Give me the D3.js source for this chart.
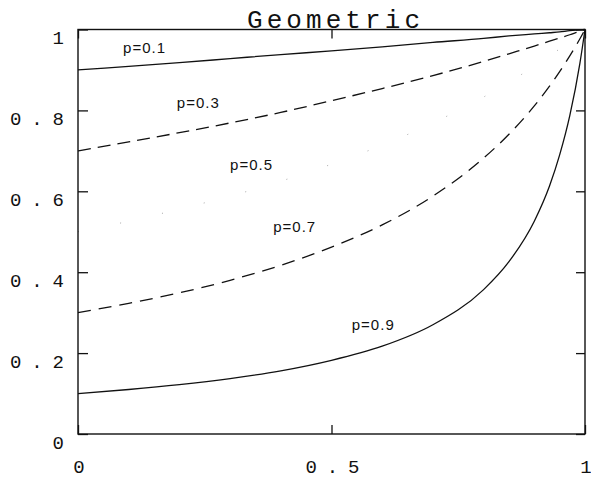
<!DOCTYPE html>
<html>
<head>
<meta charset="utf-8">
<script src="https://cdn.jsdelivr.net/npm/d3@7/dist/d3.min.js"></script>
<style>
  html, body { margin: 0; padding: 0; background: #fff; }
  svg { display: block; }
</style>
</head>
<body>
<svg id="chart" width="591" height="481"></svg>
<script>
// Generating functions of the geometric distribution, one curve per p.
const sValues = [0, 0.1, 0.2, 0.3, 0.4, 0.5, 0.6, 0.7, 0.8, 0.85, 0.9, 0.93, 0.95, 0.97, 0.99, 1];
const seriesP01 = [0.900, 0.909, 0.918, 0.928, 0.938, 0.947, 0.957, 0.968, 0.978, 0.984, 0.989, 0.992, 0.994, 0.997, 0.999, 1];
const seriesP03 = [0.700, 0.722, 0.745, 0.769, 0.795, 0.824, 0.854, 0.886, 0.921, 0.940, 0.959, 0.971, 0.979, 0.987, 0.996, 1];
const seriesP05 = [0.500, 0.526, 0.556, 0.588, 0.625, 0.667, 0.714, 0.769, 0.833, 0.870, 0.909, 0.935, 0.952, 0.971, 0.990, 1];
const seriesP07 = [0.300, 0.323, 0.349, 0.380, 0.417, 0.462, 0.517, 0.588, 0.682, 0.741, 0.811, 0.860, 0.896, 0.935, 0.977, 1];
const seriesP09 = [0.100, 0.110, 0.122, 0.137, 0.156, 0.182, 0.217, 0.270, 0.357, 0.426, 0.526, 0.613, 0.690, 0.787, 0.917, 1];

const seriesNames = ["p=0.1", "p=0.3", "p=0.5", "p=0.7", "p=0.9"];
// label anchors in data units (s, value)
const labelS = [0.089, 0.195, 0.300, 0.385, 0.540];
const labelV = [0.943, 0.807, 0.653, 0.500, 0.257];

const xTicks = [0, 0.5, 1];
const xTickLabels = ["0", "0 . 5", "1"];
const yTicks = [0, 0.2, 0.4, 0.6, 0.8, 1];
const yTickLabels = ["0", "0 . 2", "0 . 4", "0 . 6", "0 . 8", "1"];
const titleText = "Geometric";

// ---- layout ----
const plotLeft = 78, plotRight = 585, plotTop = 29.5, plotBottom = 434;
const svg = d3.select("#chart");
svg.append("rect").attr("width", 591).attr("height", 481).attr("fill", "#fff");

const x = d3.scaleLinear().domain([0, 1]).range([plotLeft, plotRight]);
const y = d3.scaleLinear().domain([0, 1]).range([plotBottom, plotTop]);

const ink = "#111";
const monoFont = "'Liberation Mono', 'DejaVu Sans Mono', monospace";

// curves: solid, dashed, sparse dotted, dashed, solid
const styles = [
  { dash: null, width: 1.3, color: ink },
  { dash: "13,7", width: 1.3, color: ink },
  { dash: "1,42", width: 1, color: "#aaa" },
  { dash: "13,8", width: 1.3, color: ink },
  { dash: null, width: 1.3, color: ink }
];
const allSeries = [seriesP01, seriesP03, seriesP05, seriesP07, seriesP09];
const line = d3.line()
  .x(d => x(d[0]))
  .y(d => y(d[1]))
  .curve(d3.curveMonotoneX);

allSeries.forEach((vals, i) => {
  const pts = sValues.map((s, j) => [s, vals[j]]);
  const st = styles[i];
  const path = svg.append("path")
    .attr("d", line(pts))
    .attr("fill", "none")
    .attr("stroke", st.color)
    .attr("stroke-width", st.width)
    .attr("stroke-linecap", "butt");
  if (st.dash) path.attr("stroke-dasharray", st.dash);
});

// frame
svg.append("rect")
  .attr("x", plotLeft).attr("y", plotTop)
  .attr("width", plotRight - plotLeft).attr("height", plotBottom - plotTop)
  .attr("fill", "none").attr("stroke", ink).attr("stroke-width", 1.4);

// axes
function styleAxis(g) {
  g.select(".domain").remove();
  g.selectAll(".tick line").attr("stroke", ink).attr("stroke-width", 1.3);
  g.selectAll(".tick text")
    .attr("fill", ink)
    .attr("font-family", monoFont)
    .attr("font-size", 19)
    .attr("letter-spacing", -0.8);
}

const yAxisLeft = svg.append("g")
  .attr("transform", `translate(${plotLeft},0)`)
  .call(d3.axisLeft(y).tickValues(yTicks).tickSize(-10).tickPadding(15)
    .tickFormat((d, i) => yTickLabels[i]));
styleAxis(yAxisLeft);
yAxisLeft.selectAll(".tick text").attr("dy", "14px");

const yAxisRight = svg.append("g")
  .attr("transform", `translate(${plotRight},0)`)
  .call(d3.axisRight(y).tickValues(yTicks).tickSize(-9).tickFormat(""));
styleAxis(yAxisRight);

const xAxisBottom = svg.append("g")
  .attr("transform", `translate(0,${plotBottom})`)
  .call(d3.axisBottom(x).tickValues(xTicks).tickSize(-9).tickPadding(26)
    .tickFormat((d, i) => xTickLabels[i]));
styleAxis(xAxisBottom);

const xAxisTop = svg.append("g")
  .attr("transform", `translate(0,${plotTop})`)
  .call(d3.axisTop(x).tickValues(xTicks).tickSize(-9).tickFormat(""));
styleAxis(xAxisTop);

// title
svg.append("text")
  .attr("x", 247).attr("y", 28)
  .attr("textLength", 173)
  .attr("lengthAdjust", "spacing")
  .attr("font-family", monoFont)
  .attr("font-size", 26)
  .attr("fill", ink)
  .text(titleText);

// curve labels
seriesNames.forEach((name, i) => {
  svg.append("text")
    .attr("x", x(labelS[i]))
    .attr("y", y(labelV[i]))
    .attr("font-family", "'Liberation Sans', Arial, sans-serif")
    .attr("font-size", 15)
    .attr("letter-spacing", 1)
    .attr("fill", ink)
    .text(name);
});
</script>
</body>
</html>
